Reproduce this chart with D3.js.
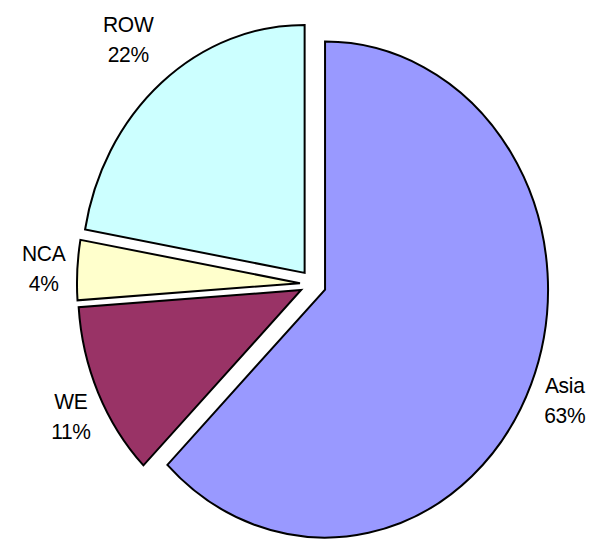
<!DOCTYPE html>
<html>
<head>
<meta charset="utf-8">
<script src="https://cdnjs.cloudflare.com/ajax/libs/d3/7.8.5/d3.min.js"></script>
<style>
  html, body { margin: 0; padding: 0; background: #fff; }
  svg { display: block; }
</style>
</head>
<body>
<svg id="chart"></svg>
<script>
// chart data (shares; labels are the rounded values)
const regions = ["Asia", "WE", "NCA", "ROW"];
const shares = [62.5, 11.4, 3.9, 22.2];
const shareLabels = ["63%", "11%", "4%", "22%"];
const colors = ["#9999FF", "#993366", "#FFFFCC", "#CCFFFF"];

const width = 594;
const height = 539;

// pie is drawn as a circle and squeezed horizontally (the original is an ellipse)
const cx = 313, cy = 284;
const ry = 248, rx = 223;
const sx = rx / ry;
const explode = 14.5;

// how far out each label sits (in unscaled pie units)
const labelDist = { Asia: 303, WE: 300, NCA: 300, ROW: 320 };
const labelNudge = { Asia: 0, WE: -1.7, NCA: 0, ROW: 0 }; // degrees

const svg = d3.select("#chart")
  .attr("width", width)
  .attr("height", height);

const data = regions.map((r, i) => ({
  region: r, value: shares[i], label: shareLabels[i], color: colors[i]
}));

const pie = d3.pie()
  .sort(null)
  .value(d => d.value)
  .startAngle(0)
  .endAngle(2 * Math.PI);

const arc = d3.arc()
  .innerRadius(0)
  .outerRadius(ry);

const arcs = pie(data);

const g = svg.append("g")
  .attr("transform", `translate(${cx},${cy}) scale(${sx},1)`);

g.selectAll("path")
  .data(arcs)
  .enter()
  .append("path")
  .attr("transform", d => {
    const mid = (d.startAngle + d.endAngle) / 2;
    return `translate(${Math.sin(mid) * explode},${-Math.cos(mid) * explode})`;
  })
  .attr("d", arc)
  .attr("fill", d => d.data.color)
  .attr("stroke", "#000")
  .attr("stroke-width", 2)
  .attr("stroke-linejoin", "miter")
  .attr("vector-effect", "non-scaling-stroke");

// labels
const labels = svg.selectAll("g.label")
  .data(arcs)
  .enter()
  .append("g")
  .attr("class", "label")
  .attr("transform", d => {
    const mid = (d.startAngle + d.endAngle) / 2 + labelNudge[d.data.region] * Math.PI / 180;
    const r = labelDist[d.data.region];
    const x = cx + sx * r * Math.sin(mid);
    const y = cy - r * Math.cos(mid);
    return `translate(${x},${y}) scale(1,1.07)`;
  });

const txt = labels.append("text")
  .attr("text-anchor", "middle")
  .style("font-family", "Arial, 'Liberation Sans', sans-serif")
  .style("font-size", "21px")
  .style("letter-spacing", "-0.3px")
  .style("fill", "#000");

txt.append("tspan")
  .attr("x", 0)
  .attr("y", -6.5)
  .text(d => d.data.region);

txt.append("tspan")
  .attr("x", 0)
  .attr("y", 21.5)
  .text(d => d.data.label);
</script>
</body>
</html>
